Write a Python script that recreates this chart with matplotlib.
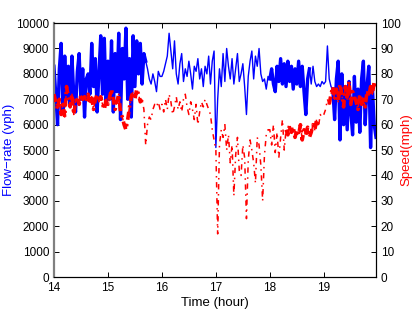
import numpy as np
import matplotlib
matplotlib.use("Agg")
import matplotlib.pyplot as plt

plt.rcParams["font.family"] = ["Liberation Sans", "DejaVu Sans"]

START_HOUR = 14
STEP_MIN = 2  # one reading every 2 minutes

# flow-rate (vph), one list per hour
flow_14 = [8300, 7200, 6000, 8200, 9200, 6500, 8700, 7000, 8300, 6800,
           8700, 7200, 6500, 8100, 8800, 7000, 8200, 6300, 7800, 8000,
           7200, 9200, 7500, 8600, 6500, 8000, 9500, 7200, 9400, 6800]
flow_15 = [8500, 7000, 9300, 6500, 8800, 7300, 9600, 6200, 9000, 7800,
           9800, 7000, 8600, 6300, 9500, 7500, 9300, 8000, 9200, 7600,
           8800, 8500, 8200, 7800, 7600, 8000, 7700, 7300, 8100, 7900]
flow_16 = [7900, 8100, 8400, 8700, 9600, 8900, 8200, 9300, 8000, 7600,
           8400, 8800, 7700, 8200, 7900, 8500, 8000, 7400, 8300, 8100,
           8600, 7800, 8200, 7500, 8300, 8000, 8700, 7600, 8500, 8900]
flow_17 = [5100, 7000, 8200, 7500, 8800, 7700, 9000, 8300, 7800, 8600,
           7600, 8200, 8800, 7700, 8000, 8400, 7500, 6400, 7900, 8500,
           8900, 7800, 8700, 8300, 9000, 8000, 7700, 7800, 7400, 7900]
flow_18 = [7800, 8200, 7600, 7300, 8300, 7700, 8600, 7600, 8400, 7500,
           8500, 7700, 8300, 7400, 8200, 7600, 8500, 7500, 8300, 7300,
           6400, 7800, 8200, 7600, 8300, 7700, 7500, 7600, 7500, 7700]
flow_19 = [7600, 7700, 9100, 7800, 7500, 7400, 6200, 7800, 8500, 5400,
           8000, 6000, 7500, 5800, 7700, 6500, 5600, 7900, 6100, 7400,
           5700, 7800, 8500, 6000, 7500, 8300, 5100, 7500, 6000, 5500]

# speed (mph), one list per hour
speed_14 = [72, 69, 66, 70, 64, 68, 63, 75, 71, 67, 72, 64, 69, 71, 68,
            72, 70, 71, 69, 72, 68, 71, 66, 70, 72, 69, 71, 68, 66, 70]
speed_15 = [68, 71, 74, 70, 66, 69, 72, 65, 63, 60, 58, 62, 67, 71, 73,
            70, 74, 72, 69, 70, 66, 52, 60, 63, 62, 66, 68, 67, 69, 66]
speed_16 = [68, 65, 70, 66, 72, 69, 64, 67, 71, 66, 69, 65, 70, 72, 67,
            64, 69, 66, 62, 68, 60, 65, 69, 67, 70, 68, 66, 64, 58, 54]
speed_17 = [50, 17, 52, 58, 55, 60, 50, 56, 45, 52, 32, 48, 55, 42, 40,
            52, 47, 23, 46, 54, 50, 45, 37, 55, 52, 44, 30, 48, 56, 58]
speed_18 = [58, 52, 60, 49, 57, 47, 55, 62, 50, 58, 56, 60, 57, 59, 55,
            58, 56, 60, 54, 58, 56, 59, 55, 57, 60, 58, 62, 59, 64, 63]
speed_19 = [64, 66, 70, 68, 72, 75, 70, 74, 69, 76, 72, 67, 75, 70, 77,
            68, 73, 71, 69, 66, 72, 68, 70, 67, 73, 71, 75, 72, 77, 74]

# stretches where the readings are dense (drawn heavier), in hours
flow_dense = [(14.0, 15.7), (18.0, 18.75), (19.15, 20.0)]
speed_dense = [(14.0, 15.65), (18.3, 18.9), (19.1, 20.0)]

flow = np.array(flow_14 + flow_15 + flow_16 + flow_17 + flow_18 + flow_19)
speed = np.array(speed_14 + speed_15 + speed_16 + speed_17 + speed_18 + speed_19)
hours = START_HOUR + np.arange(len(flow)) * STEP_MIN / 60.0

BLUE = (0, 0, 1)
RED = (1, 0, 0)

fig = plt.figure(figsize=(4.15, 3.12), dpi=100, facecolor="w")
ax = fig.add_axes([0.13, 0.112, 0.776, 0.814])
ax2 = ax.twinx()

ax.plot(hours, flow, color=BLUE, lw=1.0)
for a, b in flow_dense:
    m = (hours >= a) & (hours <= b)
    ax.plot(hours[m], flow[m], color=BLUE, lw=2.4)

ax2.plot(hours, speed, color=RED, lw=1.1, linestyle=(0, (3.5, 3, 1, 3)))
for a, b in speed_dense:
    m = (hours >= a) & (hours <= b)
    ax2.plot(hours[m], speed[m], color=RED, lw=2.6, linestyle=(0, (2.2, 1.2, 0.6, 1.2)))

ax.set_xlim(hours[0], hours[-1])
ax.set_ylim(0, 10000)
ax2.set_ylim(0, 100)
ax.set_xticks([14, 15, 16, 17, 18, 19])
ax.set_yticks(np.arange(0, 10001, 1000))
ax2.set_yticks(np.arange(0, 101, 10))

ax.tick_params(direction="in", length=3.5, labelsize=8.5, top=True, width=0.7)
ax2.tick_params(direction="in", length=3.5, labelsize=8.5, width=0.7)

ax.set_xlabel("Time (hour)", fontsize=9.5, labelpad=2)
ax.set_ylabel("Flow\u2212rate (vph)", fontsize=9.5, color=BLUE, labelpad=1)
ax2.set_ylabel("Speed(mph)", fontsize=9.5, color=RED, labelpad=0)

for a in (ax, ax2):
    for s in a.spines.values():
        s.set_linewidth(0.8)
ax.spines["left"].set_color("#808080")
ax.spines["left"].set_linewidth(1.6)
ax2.spines["left"].set_visible(False)

plt.savefig("out.png", dpi=100)
